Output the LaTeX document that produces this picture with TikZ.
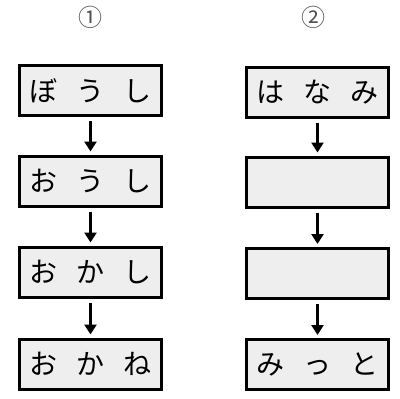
\documentclass[tikz,border=0pt]{standalone}
\usepackage{fontspec}
\newfontfamily\jp{Noto Sans CJK JP}
\usetikzlibrary{arrows.meta}
\definecolor{boxfill}{HTML}{EEEEEE}
\definecolor{numgray}{HTML}{505050}
\newcommand{\chr}[1]{\makebox[47pt]{#1}}
\tikzset{
  wbox/.style={draw=black, fill=boxfill, line width=3pt, minimum width=142pt, minimum height=50pt, inner sep=0pt, font=\jp\fontsize{28}{28}\selectfont},
  arr/.style={line width=2.8pt, -{Triangle[length=10pt,width=12pt]}},
  num/.style={font=\jp\fontsize{24}{24}\selectfont, text=numgray, inner sep=0pt}
}
\begin{document}
\begin{tikzpicture}[x=1pt,y=-1pt]
\useasboundingbox[fill=white] (0,0) rectangle (400,399);
\node[num] (n1) at (90,17) {①};
\node[num] (n2) at (313,17) {②};
\node[wbox] (a1) at (90.5,90.5) {\chr{ぼ}\chr{う}\chr{し}};
\node[wbox] (a2) at (90.5,181) {\chr{お}\chr{う}\chr{し}};
\node[wbox] (a3) at (90.5,272) {\chr{お}\chr{か}\chr{し}};
\node[wbox] (a4) at (90.5,364) {\chr{お}\chr{か}\chr{ね}};
\node[wbox] (b1) at (317.5,92) {\chr{は}\chr{な}\chr{み}};
\node[wbox] (b2) at (317.5,182) {};
\node[wbox] (b3) at (317.5,273.5) {};
\node[wbox] (b4) at (317.5,364.5) {\chr{み}\chr{っ}\chr{と}};
\foreach \p/\q in {a1/a2,a2/a3,a3/a4,b1/b2,b2/b3,b3/b4}{
  \draw[arr] ([yshift=-4pt]\p.south) -- ([yshift=3pt]\q.north);
}
\end{tikzpicture}
\end{document}
